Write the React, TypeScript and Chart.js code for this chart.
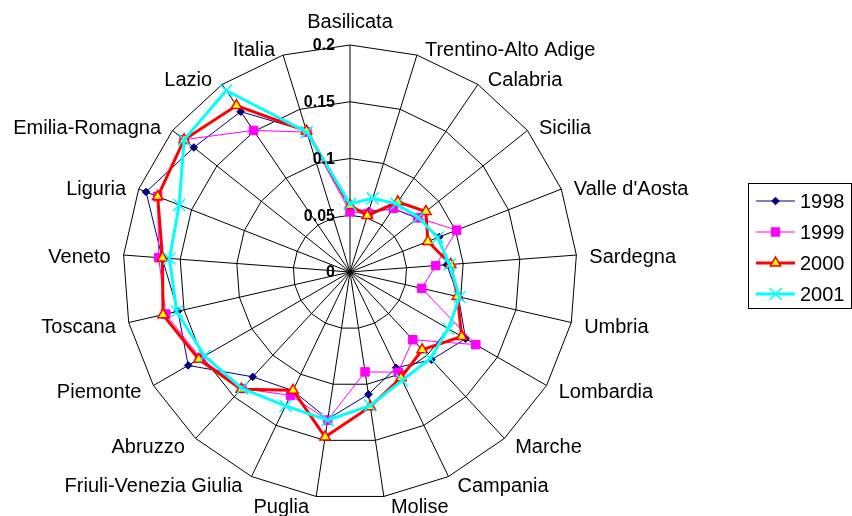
import React, { useEffect, useRef } from 'react';
import { Chart, registerables } from 'chart.js';

Chart.register(...registerables);

const categories = [
  'Basilicata', 'Trentino-Alto Adige', 'Calabria', 'Sicilia', "Valle d'Aosta", 'Sardegna',
  'Umbria', 'Lombardia', 'Marche', 'Campania', 'Molise', 'Puglia', 'Friuli-Venezia Giulia',
  'Abruzzo', 'Piemonte', 'Toscana', 'Veneto', 'Liguria', 'Emilia-Romagna', 'Lazio', 'Italia',
];

const tickValues = [0, 0.05, 0.1, 0.15, 0.2];
const tickLabels = ['0', '0.05', '0.1', '0.15', '0.2'];

const seriesNames = ['1998', '1999', '2000', '2001'];

const values1998 = [0.056, 0.056, 0.0675, 0.076, 0.0845, 0.0855, 0.098, 0.1176, 0.1055, 0.0937, 0.109, 0.131, 0.116, 0.126, 0.1646, 0.1555, 0.166, 0.193, 0.176, 0.171, 0.13];
const values1999 = [0.053, 0.054, 0.068, 0.0765, 0.101, 0.0757, 0.0648, 0.128, 0.0814, 0.098, 0.089, 0.132, 0.1207, 0.14, 0.152, 0.1665, 0.169, 0.182, 0.187, 0.151, 0.129];
const values2000 = [0.0586, 0.052, 0.0748, 0.0855, 0.0737, 0.089, 0.097, 0.1137, 0.0935, 0.1035, 0.12, 0.147, 0.1157, 0.1408, 0.1538, 0.169, 0.1657, 0.182, 0.187, 0.1775, 0.13];
const values2001 = [0.06, 0.068, 0.0727, 0.077, 0.083, 0.088, 0.099, 0.1, 0.104, 0.106, 0.119, 0.132, 0.131, 0.14, 0.148, 0.1566, 0.1595, 0.1617, 0.187, 0.1935, 0.129];

type Style = { line: string; width: number; point: string; fill: string; border: string; radius: number; pw: number };
const styles: Style[] = [
  { line: '#000080', width: 1, point: 'rectRot', fill: '#000080', border: '#000080', radius: 3.8, pw: 1 },
  { line: '#FF00FF', width: 1, point: 'rect', fill: '#FF00FF', border: '#FF00FF', radius: 6, pw: 1 },
  { line: '#FF0000', width: 3, point: 'triangle', fill: '#FFFF00', border: '#FF0000', radius: 6, pw: 1.5 },
  { line: '#00FFFF', width: 3, point: 'crossRot', fill: '#00FFFF', border: '#00FFFF', radius: 8.5, pw: 1.5 },
];

const FONT = '"Liberation Sans", Arial, sans-serif';

function drawMarker(ctx: CanvasRenderingContext2D, st: Style, x: number, y: number) {
  ctx.save();
  ctx.fillStyle = st.fill;
  ctx.strokeStyle = st.border;
  ctx.lineWidth = st.pw;
  const r = st.radius;
  ctx.beginPath();
  if (st.point === 'rectRot') {
    ctx.moveTo(x, y - r); ctx.lineTo(x + r, y); ctx.lineTo(x, y + r); ctx.lineTo(x - r, y); ctx.closePath();
    ctx.fill(); ctx.stroke();
  } else if (st.point === 'rect') {
    const s = r * Math.SQRT1_2;
    ctx.rect(x - s, y - s, 2 * s, 2 * s);
    ctx.fill(); ctx.stroke();
  } else if (st.point === 'triangle') {
    ctx.moveTo(x, y - r);
    ctx.lineTo(x + r * Math.sin(Math.PI / 3), y + r * 0.5);
    ctx.lineTo(x - r * Math.sin(Math.PI / 3), y + r * 0.5);
    ctx.closePath();
    ctx.fill(); ctx.stroke();
  } else {
    const s = r * Math.SQRT1_2;
    ctx.moveTo(x - s, y - s); ctx.lineTo(x + s, y + s);
    ctx.moveTo(x + s, y - s); ctx.lineTo(x - s, y + s);
    ctx.stroke();
  }
  ctx.restore();
}

const textPlugin = {
  id: 'textPlugin',
  afterDraw(chart: any) {
    const scale = chart.scales.r;
    const ctx: CanvasRenderingContext2D = chart.ctx;
    ctx.save();
    // category labels
    ctx.font = `20px ${FONT}`;
    ctx.fillStyle = '#000';
    ctx.textBaseline = 'middle';
    categories.forEach((lab, i) => {
      const angle = scale.getIndexAngle(i);
      const s = Math.sin(angle);
      const c = Math.cos(angle);
      const p = scale.getPointPosition(i, scale.drawingArea);
      let x = p.x;
      let y = p.y;
      if (Math.abs(s) < 0.1) {
        ctx.textAlign = 'center';
        y += c > 0 ? -23 : 25;
      } else {
        ctx.textAlign = s > 0 ? 'left' : 'right';
        x += (s > 0 ? 1 : -1) * (6 + 7 * Math.abs(s));
        y += -8 * c + 3;
      }
      ctx.fillText(lab, x, y);
    });
    // tick labels
    ctx.font = `bold 16px ${FONT}`;
    ctx.textAlign = 'right';
    tickValues.forEach((v, i) => {
      const d = scale.getDistanceFromCenterForValue(v);
      ctx.fillText(tickLabels[i], scale.xCenter - 15, scale.yCenter - d + 1);
    });
    // legend
    const bx = 748.5, by = 183.5, bw = 103, bh = 125;
    ctx.strokeStyle = '#000';
    ctx.lineWidth = 1;
    ctx.strokeRect(bx, by, bw, bh);
    ctx.font = `20px ${FONT}`;
    ctx.textAlign = 'left';
    seriesNames.forEach((name, i) => {
      const st = styles[i];
      const y = 201 + i * 31;
      ctx.strokeStyle = st.line;
      ctx.lineWidth = st.width;
      ctx.beginPath();
      ctx.moveTo(756, y);
      ctx.lineTo(795, y);
      ctx.stroke();
      drawMarker(ctx, st, 775.5, y);
      ctx.fillStyle = '#000';
      ctx.fillText(name, 800, y + 1);
    });
    ctx.restore();
  },
};

export default function App() {
  const ref = useRef<HTMLCanvasElement | null>(null);
  useEffect(() => {
    document.body.style.margin = '0';
    const canvas = ref.current;
    if (!canvas) return;
    const all = [values1998, values1999, values2000, values2001];
    const chart = new Chart(canvas, {
      type: 'radar',
      data: {
        labels: categories,
        datasets: all.map((vals, i) => ({
          label: seriesNames[i],
          data: vals,
          borderColor: styles[i].line,
          borderWidth: styles[i].width,
          backgroundColor: styles[i].fill,
          pointStyle: styles[i].point as any,
          pointRadius: styles[i].radius,
          pointBackgroundColor: styles[i].fill,
          pointBorderColor: styles[i].border,
          pointBorderWidth: styles[i].pw,
          fill: false,
          tension: 0,
          order: 3 - i,
        })),
      },
      options: {
        responsive: false,
        animation: false,
        layout: { padding: { left: 123, right: 275, top: 45, bottom: 17 } },
        plugins: { legend: { display: false }, tooltip: { enabled: false } },
        scales: {
          r: {
            min: 0,
            max: 0.2,
            ticks: { display: false, stepSize: 0.05 },
            pointLabels: { display: false },
            grid: { color: '#000', lineWidth: 1 },
            angleLines: { color: '#000', lineWidth: 1 },
          },
        },
      },
      plugins: [textPlugin],
    });
    return () => chart.destroy();
  }, []);
  return <canvas ref={ref} width={852} height={516} style={{ display: 'block', width: 852, height: 516 }} />;
}
